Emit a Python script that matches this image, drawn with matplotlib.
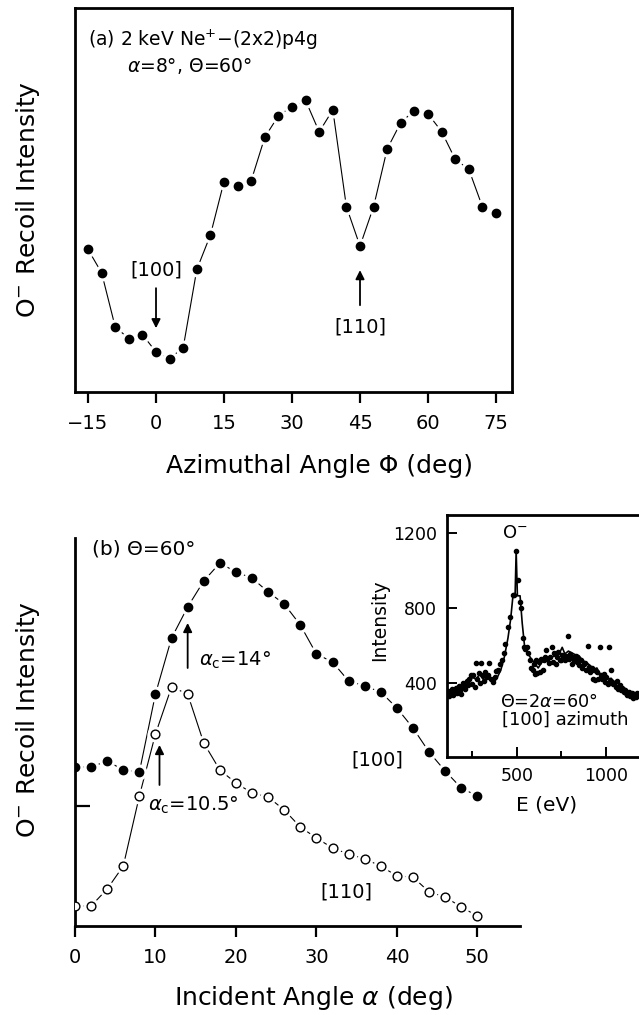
import matplotlib
matplotlib.use("Agg")
import matplotlib.pyplot as plt

plt.rcParams['font.family'] = ['DejaVu Sans']
plt.rcParams['mathtext.fontset'] = 'dejavusans'

# panel (a): azimuthal scan, arbitrary units
phi = [-15, -12, -9, -6, -3, 0, 3, 6, 9, 12, 15, 18, 21, 24, 27, 30,
       33, 36, 39, 42, 45, 48, 51, 54, 57, 60, 63, 66, 69, 72, 75]
recoil_phi = [42.7, 35.7, 19.5, 16.0, 17.2, 12.0, 10.0, 13.3, 36.7, 47.0, 63.0,
              61.8, 63.3, 76.3, 82.7, 85.5, 87.3, 77.9, 84.5, 55.5, 43.7, 55.5,
              72.8, 80.7, 84.3, 83.3, 78.0, 69.7, 66.7, 55.5, 53.7]
phi_ticks = [-15, 0, 15, 30, 45, 60, 75]

# panel (b): incident angle scans, arbitrary units
alpha = [0, 2, 4, 6, 8, 10, 12, 14, 16, 18, 20, 22, 24, 26, 28, 30,
         32, 34, 36, 38, 40, 42, 44, 46, 48, 50]
recoil_100 = [159, 159, 165, 156, 154, 232, 288, 319, 345, 363, 354, 348, 334,
              322, 301, 272, 264, 245, 240, 234, 218, 198, 174, 155, 138, 130]
recoil_110 = [20, 20, 37, 60, 130, 192, 239, 232, 183, 156, 143, 133, 129,
              116, 99, 88, 78, 72, 67, 60, 50, 49, 34, 29, 19, 10]
alpha_ticks = [0, 10, 20, 30, 40, 50]

# inset: energy spectrum
E_dots = [110, 115, 120, 128, 135, 142, 150, 158, 165, 172, 180, 188, 195, 203,
          210, 218, 225, 232, 240, 248, 255, 262, 270, 278, 285, 292, 300, 308,
          315, 322, 330, 338, 345, 355, 365, 375, 385, 395, 405, 415, 425, 435,
          450, 462, 478, 484, 496, 508, 520, 524, 532, 540, 548, 556, 565, 572,
          580, 588, 595, 600, 608, 615, 622, 630, 636, 645, 650, 658, 665, 672,
          680, 688, 695, 702, 710, 718, 725, 733, 740, 748, 756, 763, 770, 778,
          785, 792, 800, 808, 815, 822, 830, 838, 845, 852, 860, 868, 875, 882,
          890, 898, 905, 912, 920, 928, 935, 942, 950, 958, 965, 972, 980, 988,
          995, 1002, 1010, 1018, 1025, 1032, 1040, 1048, 1055, 1062, 1070, 1078,
          1085, 1092, 1100, 1108, 1115, 1122, 1130, 1138, 1145, 1152, 1160, 1168,
          1175, 1182]
I_dots = [340, 355, 330, 345, 370, 335, 350, 375, 345, 385, 365, 340, 400, 380,
          370, 410, 390, 420, 440, 395, 440, 380, 505, 420, 455, 400, 505, 440,
          410, 460, 430, 445, 505, 420, 405, 430, 465, 470, 500, 520, 560, 610,
          700, 750, 870, 870, 1105, 950, 830, 800, 640, 590, 580, 590, 560, 520,
          480, 470, 500, 450, 520, 455, 510, 460, 530, 470, 520, 540, 575, 530,
          505, 540, 590, 510, 560, 500, 540, 565, 525, 520, 550, 540, 520, 545,
          650, 530, 555, 500, 540, 520, 545, 510, 530, 495, 520, 480, 500, 505,
          470, 595, 485, 460, 480, 420, 470, 415, 460, 420, 590, 440, 420, 450,
          405, 430, 395, 590, 410, 470, 395, 400, 380, 410, 370, 390, 365, 375,
          350, 360, 345, 335, 350, 330, 345, 320, 340, 325, 345, 335]
E_fit = [110, 130, 150, 170, 190, 210, 230, 250, 270, 290, 310, 330, 350, 370,
         390, 410, 430, 450, 465, 478, 490, 496, 503, 518, 530, 545, 560, 580,
         600, 620, 640, 660, 680, 700, 720, 740, 755, 770, 790, 810, 830, 850,
         870, 890, 910, 930, 950, 970, 990, 1010, 1030, 1050, 1070, 1090, 1110,
         1130, 1150, 1170, 1187]
I_fit = [345, 350, 340, 365, 360, 385, 395, 430, 420, 445, 420, 440, 425, 400,
         430, 470, 540, 640, 740, 865, 865, 1105, 865, 865, 720, 580, 560, 530,
         505, 480, 510, 525, 520, 540, 545, 560, 590, 555, 570, 560, 550, 545,
         520, 510, 495, 470, 480, 445, 440, 420, 425, 405, 395, 380, 370, 355,
         345, 335, 330]

W, H = 639, 1015
fig = plt.figure(figsize=(W / 100, H / 100), dpi=100)


def rect(x0, y0, x1, y1):
    # pixel box -> figure fraction
    return [x0 / W, 1 - y1 / H, (x1 - x0) / W, (y1 - y0) / H]


def haloed(ax, x, y, filled=True):
    ax.plot(x, y, '-', color='k', lw=0.8, zorder=1)
    ax.plot(x, y, 'o', ms=10.5, color='white', mec='white', zorder=2)
    if filled:
        ax.plot(x, y, 'o', ms=6, color='k', mec='k', zorder=3)
    else:
        ax.plot(x, y, 'o', ms=6.3, mfc='white', mec='k', mew=1.0, zorder=3)


arrow = dict(arrowstyle='-|>', lw=1.3, color='k', mutation_scale=13,
             shrinkA=0, shrinkB=0)
fs = 14

# ---------- panel (a)
ax1 = fig.add_axes(rect(75, 8, 512, 392))
haloed(ax1, phi, recoil_phi)
ax1.set_xlim(-17.87, 78.53)
ax1.set_ylim(0, 115)
ax1.set_xticks(phi_ticks)
ax1.set_yticks([])
for s in ax1.spines.values():
    s.set_linewidth(2)
ax1.tick_params(axis='x', direction='out', length=8, width=1.6, pad=8,
                labelsize=14)
ax1.text(-15, 105.4, '(a) 2 keV Ne$^{+}$\u2212(2x2)p4g', fontsize=13.5,
         va='center', ha='left')
ax1.text(-6.4, 97.6, r'$\alpha$=8°, Θ=60°', fontsize=13.5, va='center',
         ha='left')
ax1.text(0, 36.5, '[100]', fontsize=fs, ha='center', va='center')
ax1.annotate('', xy=(0, 19.1), xytext=(0, 31.1), arrowprops=arrow)
ax1.text(45, 19.4, '[110]', fontsize=fs, ha='center', va='center')
ax1.annotate('', xy=(45, 36.5), xytext=(45, 26.0), arrowprops=arrow)

# ---------- panel (b)
ax2 = fig.add_axes(rect(75, 538, 520, 926))
haloed(ax2, alpha, recoil_100)
haloed(ax2, alpha, recoil_110, filled=False)
ax2.set_xlim(0, 55.3)
ax2.set_ylim(0, 388)
ax2.set_xticks(alpha_ticks)
ax2.set_yticks([120])
ax2.set_yticklabels([])
ax2.spines['top'].set_visible(False)
ax2.spines['right'].set_visible(False)
ax2.spines['left'].set_linewidth(2)
ax2.spines['bottom'].set_linewidth(2)
ax2.tick_params(axis='x', direction='out', length=8, width=1.6, pad=8,
                labelsize=14)
ax2.tick_params(axis='y', direction='in', length=11, width=1.6)
ax2.text(2.1, 377, '(b) Θ=60°', fontsize=fs + 0.5, va='center', ha='left')
ax2.annotate('', xy=(14, 303), xytext=(14, 258), arrowprops=arrow)
ax2.text(15.4, 266, r'$\alpha_{\rm c}$=14°', fontsize=fs, va='center',
         ha='left')
ax2.annotate('', xy=(10.5, 181), xytext=(10.5, 141), arrowprops=arrow)
ax2.text(9.1, 121, r'$\alpha_{\rm c}$=10.5°', fontsize=fs, va='center',
         ha='left')
ax2.text(37.6, 166, '[100]', fontsize=fs, ha='center', va='center')
ax2.text(33.7, 34, '[110]', fontsize=fs, ha='center', va='center')

# ---------- inset spectrum
ax3 = fig.add_axes(rect(447, 515, 639, 757))
ax3.plot(E_fit, I_fit, '-', color='k', lw=1.2, zorder=2)
ax3.plot(E_dots, I_dots, 'o', ms=3, color='k', zorder=3)
ax3.set_xlim(107, 1187)
ax3.set_ylim(5, 1296)
ax3.set_xticks([500, 1000])
ax3.set_xticks([250, 750], minor=True)
ax3.set_yticks([400, 800, 1200])
ax3.spines['right'].set_visible(False)
for side in ['left', 'top', 'bottom']:
    ax3.spines[side].set_linewidth(2)
ax3.tick_params(which='major', direction='in', length=7, width=1.4, pad=7,
                labelsize=12.5)
ax3.tick_params(which='minor', direction='in', length=4, width=1.4)
ax3.text(489, 1200, 'O$^{-}$', fontsize=13, ha='center', va='center')
ax3.text(404, 299, 'Θ=2$\\alpha$=60°', fontsize=12.7, ha='left', va='center')
ax3.text(416, 203, '[100] azimuth', fontsize=13, ha='left', va='center')

# axis titles placed in figure pixels
fig.text(28 / W, 1 - 200 / H, 'O$^{-}$ Recoil Intensity', rotation=90,
         fontsize=18, ha='center', va='center')
fig.text(28 / W, 1 - 720 / H, 'O$^{-}$ Recoil Intensity', rotation=90,
         fontsize=18, ha='center', va='center')
fig.text(320 / W, 1 - 466 / H, 'Azimuthal Angle Φ (deg)', fontsize=18,
         ha='center', va='center')
fig.text(313 / W, 1 - 998 / H, r'Incident Angle $\alpha$ (deg)', fontsize=18,
         ha='center', va='center')
fig.text(380 / W, 1 - 620 / H, 'Intensity', rotation=90, fontsize=13.5,
         ha='center', va='center')
fig.text(547 / W, 1 - 805 / H, 'E (eV)', fontsize=14.5, ha='center',
         va='center')

fig.savefig('out.png', dpi=100)
